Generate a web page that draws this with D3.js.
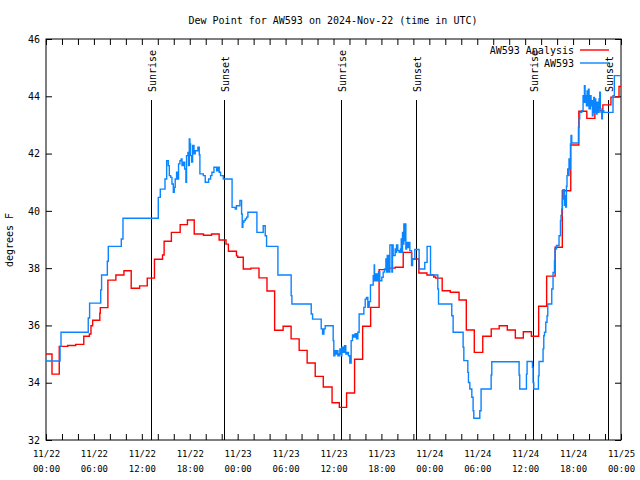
<!DOCTYPE html>
<html><head><meta charset="utf-8">
<script src="https://cdn.jsdelivr.net/npm/d3@7"></script>
<style>
body{margin:0;background:#fff}
svg{display:block}
text{font-family:"DejaVu Sans Mono","Liberation Mono",monospace;fill:#000}
</style>
</head><body>
<svg id="chart" width="640" height="480"></svg>
<script>
// ---- data (hours since 2024-11-22 00:00 UTC) ----
const analysisHours = [0,0.75,1.66,2.72,3.72,4.73,5.43,5.63,5.84,6.74,6.8,7.75,8.75,9.76,10.67,11.72,12.68,13.58,14.59,14.79,15.7,16.8,17.71,18.56,19.72,20.73,21.68,22.54,22.84,23.85,24.0,24.7,25.66,26.67,27.67,28.63,29.69,30.69,31.7,32.7,33.71,34.72,35.82,36.73,37.64,38.64,39.65,40.65,41.71,42.72,43.72,44.73,45.79,46.69,47.7,48.55,48.8,49.61,50.62,51.72,52.63,53.63,54.69,55.75,56.75,57.76,58.77,59.77,60.78,61.69,62.69,63.75,64.65,65.71,66.72,67.72,68.73,69.73,70.74,71.75,72];
const analysisValues = [35.0,34.30,35.27,35.30,35.34,35.62,35.70,35.99,36.18,36.43,36.62,37.58,37.76,37.91,37.30,37.38,37.65,38.31,38.46,38.94,39.25,39.52,39.68,39.19,39.15,39.19,38.98,38.84,38.59,38.43,38.38,37.97,38.00,37.66,37.20,35.83,35.97,35.53,35.13,34.69,34.22,33.85,33.30,33.14,33.64,34.82,35.97,36.63,37.95,38.00,38.03,38.55,38.32,37.83,37.76,37.69,37.65,37.21,37.16,36.89,35.84,35.06,35.62,35.88,35.99,35.84,35.56,35.78,35.62,36.67,37.72,38.73,40.70,42.30,43.48,43.23,43.50,43.70,43.97,44.34,44.34];

const obsHours = [0,1.76,1.88,5.29,5.46,6.85,6.96,7.68,7.80,9.43,9.64,14.06,14.31,14.9,15.11,15.31,15.44,15.61,15.77,15.94,16.06,16.18,16.35,16.48,16.6,16.77,16.93,17.03,17.19,17.36,17.52,17.6,17.77,17.85,17.94,18.02,18.1,18.23,18.36,18.53,18.69,19.02,19.19,19.27,19.70,19.94,20.36,20.61,20.78,21.03,21.36,21.52,21.69,21.86,22.2,23.3,23.7,23.85,24.28,24.49,24.57,24.65,24.78,24.95,25.12,25.28,26.41,27.2,27.45,27.62,29.04,30.7,30.79,33.21,33.38,34.46,34.63,34.8,34.96,35.96,36.04,36.17,36.29,36.38,36.55,36.72,36.8,36.97,37.05,37.21,37.38,37.54,37.71,37.87,38.04,38.21,38.38,38.55,38.71,38.88,39.05,39.21,39.8,39.97,40.13,40.3,40.47,40.63,40.97,41.1,41.14,41.3,41.47,41.64,41.8,42.05,42.22,42.38,42.56,42.64,42.73,42.89,43.06,43.31,43.39,43.47,43.72,43.8,43.89,44.05,44.22,44.39,44.48,44.56,44.64,44.72,44.81,44.89,44.97,45.06,45.14,45.22,45.39,45.56,45.77,45.9,46.18,46.72,47.43,47.72,48.15,49.06,49.15,50.81,50.98,52.23,52.32,52.82,52.9,53.07,53.32,53.48,53.57,54.32,54.48,55.74,55.82,59.24,59.32,60.16,60.24,60.91,60.99,61.08,61.66,61.74,62.24,62.33,62.42,62.58,62.74,62.83,63.33,63.49,63.67,63.74,63.92,64.24,64.42,64.49,64.58,64.67,64.74,64.92,64.99,65.08,65.17,65.24,65.33,65.42,65.49,65.58,65.67,65.74,65.83,66.67,66.75,66.83,67.08,67.25,67.33,67.42,67.5,67.58,67.67,67.75,67.83,67.92,68.0,68.17,68.25,68.34,68.42,68.5,68.59,68.67,68.75,68.84,68.92,69.0,69.17,69.25,69.34,69.42,69.5,69.59,69.67,69.84,71.0,71.17,72];
const obsValues = [34.76,35.27,35.76,36.26,36.78,37.24,37.76,38.24,38.76,39.02,39.74,40.47,40.76,41.11,41.75,41.58,41.23,41.17,40.94,40.65,40.82,41.11,41.35,41.11,41.64,41.75,41.81,41.58,41.70,41.46,41.00,41.93,42.04,41.58,42.51,42.34,41.93,41.70,42.28,41.99,42.10,42.22,41.96,41.29,41.23,41.00,41.11,41.23,41.35,41.52,41.40,41.52,41.35,41.23,41.11,40.12,40.06,40.18,40.36,39.89,39.43,39.60,39.66,39.72,39.78,39.95,39.25,39.48,39.13,38.76,37.76,37.04,36.75,36.40,36.22,35.88,35.70,35.88,35.99,35.47,34.94,35.12,35.00,35.12,34.94,35.00,35.18,34.94,35.24,35.06,35.29,35.00,35.06,34.94,34.69,35.47,35.67,35.59,35.71,35.53,35.76,36.40,36.63,36.92,36.98,36.63,36.83,37.41,37.74,38.11,37.56,37.80,37.56,37.88,37.56,37.68,37.86,37.97,38.32,37.86,38.44,37.86,38.81,37.86,38.81,38.44,38.67,38.55,38.81,38.61,38.55,38.67,39.02,38.55,39.25,38.84,39.54,38.96,39.54,38.67,38.90,38.72,38.90,38.61,38.09,38.32,38.65,37.97,38.20,38.76,37.76,37.27,36.75,36.34,35.76,35.24,34.77,34.36,34.01,33.78,33.49,33.02,32.76,33.02,33.78,34.27,34.73,34.27,33.78,34.30,34.74,34.54,34.01,33.78,34.24,34.74,35.18,35.64,35.76,36.11,36.34,36.75,37.27,37.85,38.26,38.67,38.79,39.13,39.66,39.84,40.07,40.41,40.74,40.19,40.53,40.13,40.86,41.23,41.46,41.23,41.81,41.46,42.34,42.63,42.37,42.92,43.21,43.44,43.50,44.02,43.79,44.37,43.79,44.02,43.67,44.19,43.67,44.25,43.56,44.02,43.67,43.85,43.32,43.56,43.96,43.44,43.91,43.67,43.38,43.79,43.44,43.91,44.14,43.56,43.44,43.21,43.50,43.44,44.02,44.72,44.72];

const sunLabels = ["Sunrise","Sunset","Sunrise","Sunset","Sunrise","Sunset"];
const sunHours = [13.10,22.32,36.96,46.35,60.99,70.43];

const yTickValues = [32,34,36,38,40,42,44,46];
const seriesNames = ["AW593 Analysis","AW593"];
const seriesColors = ["#ff0000","#0a84ff"];
const titleText = "Dew Point for AW593 on 2024-Nov-22 (time in UTC)";
const yLabel = "degrees F";

// ---- layout ----
const mLeft = 46, mRight = 621, mTop = 39, mBottom = 440;
const t0 = Date.UTC(2024,10,22);
const toDate = h => new Date(t0 + h*3600e3);

const svg = d3.select("#chart");
const x = d3.scaleUtc().domain([toDate(0), toDate(72)]).range([mLeft, mRight]);
const y = d3.scaleLinear().domain([32,46]).range([mBottom, mTop]);

// title
svg.append("text").attr("x", 333).attr("y", 24).attr("text-anchor","middle")
  .style("font-size","10px").text(titleText);

// y label
svg.append("text").attr("transform","translate(13,240) rotate(-90)")
  .attr("text-anchor","middle").style("font-size","10px").text(yLabel);

// axes ticks
const tick2 = d3.utcHour.every(2);
svg.append("g").attr("transform",`translate(0,${mBottom})`)
  .call(d3.axisBottom(x).ticks(tick2).tickSize(-6).tickFormat(""))
  .call(g=>g.select(".domain").remove());
svg.append("g").attr("transform",`translate(0,${mTop})`)
  .call(d3.axisTop(x).ticks(tick2).tickSize(-6).tickFormat(""))
  .call(g=>g.select(".domain").remove());
const yl = svg.append("g").attr("transform",`translate(${mLeft},0)`)
  .call(d3.axisLeft(y).tickValues(yTickValues).tickSize(-6).tickPadding(6).tickFormat(d3.format("d")))
  .call(g=>g.select(".domain").remove());
yl.selectAll("text").style("font-family",'"DejaVu Sans Mono",monospace').style("font-size","10px");
svg.append("g").attr("transform",`translate(${mRight},0)`)
  .call(d3.axisRight(y).tickValues(yTickValues).tickSize(-6).tickFormat(""))
  .call(g=>g.select(".domain").remove());
svg.selectAll(".tick line").attr("stroke","#000");

// x labels (two lines)
const xl = svg.append("g").attr("transform",`translate(0,${mBottom})`)
  .call(d3.axisBottom(x).ticks(d3.utcHour.every(6)).tickSize(0).tickPadding(0).tickFormat(""))
  .call(g=>g.select(".domain").remove());
xl.selectAll(".tick").each(function(d){
  const t = d3.select(this).append("text").attr("text-anchor","middle")
    .style("font-family",'"DejaVu Sans Mono",monospace').style("font-size","9px");
  t.append("tspan").attr("x",0).attr("y",17).text(d3.utcFormat("%m/%d")(d));
  t.append("tspan").attr("x",0).attr("y",32).text(d3.utcFormat("%H:%M")(d));
});

// border
svg.append("rect").attr("x",mLeft).attr("y",mTop).attr("width",mRight-mLeft).attr("height",mBottom-mTop)
  .attr("fill","none").attr("stroke","#000").attr("stroke-width",1);

// sunrise / sunset lines
const sun = svg.append("g");
sunHours.forEach((h,i)=>{
  const sx = Math.round(x(toDate(h)))+0.5;
  sun.append("line").attr("x1",sx).attr("x2",sx).attr("y1",100).attr("y2",mBottom)
    .attr("stroke","#000").attr("stroke-width",1);
  sun.append("text").attr("transform",`translate(${sx+4},92) rotate(-90)`)
    .attr("text-anchor","start").style("font-size","10px").text(sunLabels[i]);
});

// series
const line = d3.line().curve(d3.curveStepAfter)
  .x(d=>x(toDate(d[0]))).y(d=>y(d[1]));
const series = [
  d3.zip(analysisHours, analysisValues),
  d3.zip(obsHours, obsValues)
];
series.forEach((s,i)=>{
  svg.append("path").datum(s).attr("d",line).attr("fill","none")
    .attr("stroke",seriesColors[i]).attr("stroke-width",1.4);
});

// legend
seriesNames.forEach((n,i)=>{
  const ly = 50 + i*13;
  svg.append("text").attr("x",574).attr("y",ly+4).attr("text-anchor","end")
    .style("font-size","10px").text(n);
  svg.append("line").attr("x1",580).attr("x2",609).attr("y1",ly).attr("y2",ly)
    .attr("stroke",seriesColors[i]).attr("stroke-width",1.4);
});
</script>
</body></html>
